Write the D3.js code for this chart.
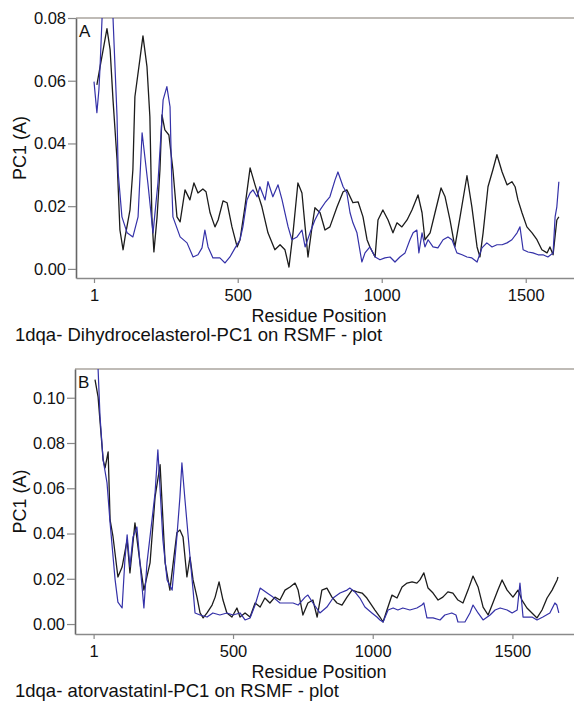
<!DOCTYPE html>
<html><head><meta charset="utf-8">
<script src="https://cdn.jsdelivr.net/npm/d3@7"></script>
<style>body{margin:0;background:#fff}svg{display:block}text{font-family:"Liberation Sans",Arial,sans-serif;fill:#111}</style>
</head><body>
<svg id="c" width="574" height="702"></svg>
<script>
// ---- Panel A data ----
const resA_black = [11,22,36,46,57,67,81,91,102,109,126,136,143,161,171,185,195,202,209,220,230,237,247,261,275,289,300,317,334,348,362,379,390,404,421,432,449,463,480,498,508,525,543,560,584,605,629,647,664,678,692,709,723,734,744,758,768,786,803,820,845,866,879,900,918,935,949,959,977,987,1004,1022,1039,1053,1070,1088,1105,1126,1140,1150,1168,1185,1206,1220,1237,1254,1272,1296,1313,1331,1341,1352,1369,1386,1400,1418,1435,1452,1463,1473,1487,1504,1522,1539,1556,1574,1584,1595,1608,1615];
const valA_black = [0.0587,0.0644,0.0715,0.0766,0.0699,0.0539,0.0348,0.0124,0.0061,0.0102,0.0188,0.0316,0.0549,0.0673,0.0743,0.0644,0.0485,0.0166,0.0054,0.0166,0.0316,0.0491,0.0443,0.0427,0.0316,0.0166,0.0150,0.0252,0.0220,0.0274,0.0242,0.0255,0.0246,0.0179,0.0134,0.0156,0.0217,0.0211,0.0134,0.0070,0.0093,0.0198,0.0322,0.0268,0.0198,0.0115,0.0061,0.0077,0.0061,0.0006,0.0115,0.0274,0.0242,0.0134,0.0038,0.0134,0.0195,0.0179,0.0124,0.0134,0.0198,0.0246,0.0252,0.0211,0.0214,0.0166,0.0093,0.0070,0.0038,0.0156,0.0188,0.0156,0.0115,0.0147,0.0134,0.0156,0.0188,0.0236,0.0179,0.0093,0.0115,0.0179,0.0258,0.0230,0.0156,0.0070,0.0166,0.0297,0.0198,0.0070,0.0038,0.0115,0.0262,0.0316,0.0364,0.0309,0.0268,0.0278,0.0262,0.0220,0.0179,0.0134,0.0115,0.0093,0.0061,0.0051,0.0070,0.0045,0.0156,0.0166];
const resA_blue = [1,11,18,22,29,39,57,67,81,85,98,116,136,154,168,188,206,223,241,254,265,272,275,300,324,345,362,376,386,397,414,438,456,473,491,508,518,532,543,553,567,577,595,605,622,640,654,664,675,688,706,723,734,751,768,786,803,820,838,848,866,879,890,900,914,931,942,959,977,994,1011,1029,1046,1063,1081,1098,1109,1122,1129,1140,1150,1161,1178,1195,1213,1230,1244,1261,1279,1296,1313,1331,1348,1365,1383,1400,1418,1435,1452,1470,1480,1491,1508,1525,1543,1560,1577,1595,1602,1608,1615];
const valA_blue = [0.0597,0.0498,0.0571,0.0644,0.0800,0.0880,0.0870,0.0800,0.0485,0.0306,0.0166,0.0115,0.0102,0.0166,0.0434,0.0274,0.0115,0.0274,0.0539,0.0581,0.0517,0.0242,0.0166,0.0102,0.0083,0.0038,0.0045,0.0067,0.0124,0.0070,0.0035,0.0035,0.0019,0.0038,0.0067,0.0093,0.0134,0.0220,0.0242,0.0252,0.0230,0.0262,0.0220,0.0278,0.0230,0.0268,0.0220,0.0179,0.0134,0.0093,0.0102,0.0124,0.0070,0.0115,0.0156,0.0188,0.0211,0.0230,0.0284,0.0309,0.0262,0.0242,0.0179,0.0147,0.0115,0.0022,0.0051,0.0070,0.0038,0.0029,0.0035,0.0038,0.0022,0.0038,0.0051,0.0093,0.0115,0.0124,0.0051,0.0115,0.0070,0.0093,0.0070,0.0067,0.0093,0.0102,0.0093,0.0051,0.0045,0.0038,0.0035,0.0022,0.0067,0.0083,0.0070,0.0077,0.0077,0.0083,0.0093,0.0115,0.0134,0.0061,0.0054,0.0051,0.0045,0.0045,0.0038,0.0051,0.0166,0.0198,0.0278];

// ---- Panel B data ----
const resB_black = [6,17,35,42,53,60,70,88,103,121,131,149,167,181,203,221,239,257,274,299,310,321,335,346,357,371,382,393,407,425,436,450,464,478,496,514,525,543,561,579,597,614,632,650,668,686,704,722,733,750,768,786,801,818,836,854,872,890,908,926,944,962,979,1008,1026,1037,1051,1069,1087,1105,1123,1141,1158,1169,1183,1198,1216,1234,1251,1269,1287,1305,1323,1341,1359,1377,1395,1413,1430,1448,1463,1481,1502,1520,1534,1552,1570,1588,1606,1624,1642,1660,1663];
const valB_black = [0.108,0.1004,0.0726,0.069,0.0761,0.046,0.039,0.0208,0.0252,0.0372,0.0226,0.0447,0.0270,0.0150,0.0270,0.0562,0.0704,0.0270,0.0150,0.0403,0.0416,0.0385,0.0208,0.0296,0.0195,0.0119,0.0049,0.0027,0.0049,0.0084,0.0119,0.0186,0.0106,0.0049,0.0031,0.0071,0.0031,0.0049,0.0031,0.0093,0.0075,0.0115,0.0093,0.0119,0.0106,0.0150,0.0164,0.0181,0.0150,0.0040,0.0093,0.0106,0.0031,0.0150,0.0159,0.0119,0.0093,0.0084,0.0119,0.0150,0.0142,0.0137,0.0115,0.0062,0.0031,0.0009,0.0062,0.0128,0.0115,0.0164,0.0181,0.0186,0.0181,0.0195,0.0226,0.0159,0.0137,0.0106,0.0119,0.0142,0.0137,0.0106,0.0093,0.0150,0.0212,0.0164,0.0075,0.0040,0.0093,0.0150,0.0195,0.0150,0.0119,0.0150,0.0106,0.0071,0.0049,0.0027,0.0062,0.0115,0.0150,0.0195,0.0208];
const resB_blue = [1,17,24,35,49,60,78,88,103,113,121,131,142,156,167,181,192,210,221,231,249,264,282,299,310,317,328,346,357,364,382,407,428,453,478,500,525,543,561,579,597,622,643,668,693,715,733,758,768,786,811,836,858,883,908,918,936,954,972,997,1015,1026,1037,1055,1073,1090,1108,1133,1158,1176,1183,1194,1216,1241,1258,1283,1298,1305,1330,1348,1359,1377,1395,1420,1438,1456,1481,1499,1517,1527,1538,1552,1570,1588,1609,1634,1652,1659,1666];
const valB_blue = [0.125,0.1128,0.0916,0.0726,0.0624,0.0447,0.0195,0.0097,0.0071,0.0283,0.0394,0.0252,0.0385,0.0429,0.0270,0.0071,0.0270,0.0460,0.0580,0.0770,0.0372,0.0195,0.0150,0.0385,0.0562,0.0712,0.0549,0.0296,0.0150,0.0049,0.0040,0.0031,0.0049,0.0040,0.0049,0.0040,0.0049,0.0018,0.0027,0.0084,0.0159,0.0137,0.0119,0.0093,0.0093,0.0093,0.0084,0.0119,0.0128,0.0093,0.0049,0.0075,0.0115,0.0137,0.0150,0.0159,0.0142,0.0115,0.0075,0.0049,0.0031,0.0018,0.0009,0.0062,0.0071,0.0062,0.0071,0.0062,0.0071,0.0084,0.0093,0.0027,0.0027,0.0018,0.0040,0.0049,0.0040,0.0009,0.0009,0.0049,0.0084,0.0049,0.0018,0.0040,0.0062,0.0071,0.0062,0.0049,0.0062,0.0181,0.0031,0.0031,0.0031,0.0018,0.0031,0.0049,0.0093,0.0084,0.0049];

const xTicks = [1, 500, 1000, 1500];
const yTicksA = [0, 0.02, 0.04, 0.06, 0.08];
const yTicksB = [0, 0.02, 0.04, 0.06, 0.08, 0.10];
const titleA = "1dqa- Dihydrocelasterol-PC1 on RSMF - plot";
const titleB = "1dqa- atorvastatinl-PC1 on RSMF - plot";

const svg = d3.select("#c");
const BLACK = "#1c1c1c", BLUE = "#3431a8";

function panel(cfg){
  const g = svg.append("g");
  const x = d3.scaleLinear().domain(cfg.xDom).range([cfg.left, 574]);
  const y = d3.scaleLinear().domain(cfg.yDom).range([cfg.bottom, cfg.top]);
  const id = "clip" + cfg.letter;
  svg.append("clipPath").attr("id", id).append("rect")
    .attr("x", cfg.left).attr("y", cfg.top).attr("width", 574 - cfg.left).attr("height", cfg.bottom - cfg.top);
  // top frame
  g.append("line").attr("x1", cfg.left).attr("x2", 574).attr("y1", cfg.top).attr("y2", cfg.top)
    .attr("stroke", "#aaa49e").attr("stroke-width", 1.6);
  const line = d3.line().x(d => x(d[0])).y(d => y(d[1]));
  const lg = g.append("g").attr("clip-path", `url(#${id})`);
  lg.append("path").datum(d3.zip(cfg.rb, cfg.vb)).attr("d", line)
    .attr("fill", "none").attr("stroke", BLACK).attr("stroke-width", 1.3).attr("stroke-linejoin", "round");
  lg.append("path").datum(d3.zip(cfg.ru, cfg.vu)).attr("d", line)
    .attr("fill", "none").attr("stroke", BLUE).attr("stroke-width", 1.2).attr("stroke-linejoin", "round");
  // axes
  const ya = g.append("g").attr("transform", `translate(${cfg.left},0)`)
    .call(d3.axisLeft(y).tickValues(cfg.yTicks).tickFormat(d3.format(".2f")).tickSize(8).tickPadding(2).tickSizeOuter(0));
  ya.select(".domain").attr("stroke", "#666").attr("stroke-width", 1.6);
  ya.selectAll(".tick line").attr("stroke", "#888").attr("stroke-width", 1.2);
  ya.selectAll(".tick text").attr("font-size", 16.5).attr("fill", "#111").attr("font-family", "Liberation Sans, Arial, sans-serif");
  const xa = g.append("g").attr("transform", `translate(0,${cfg.bottom})`)
    .call(d3.axisBottom(x).tickValues(xTicks).tickFormat(d3.format("d")).tickSize(5).tickPadding(6).tickSizeOuter(0));
  xa.select(".domain").attr("stroke", "#8a8a8a").attr("stroke-width", 1.6);
  xa.selectAll(".tick line").attr("stroke", "#888").attr("stroke-width", 1.2);
  xa.selectAll(".tick text").attr("font-size", 16.5).attr("fill", "#111").attr("font-family", "Liberation Sans, Arial, sans-serif");
  // labels
  g.append("text").attr("x", cfg.left + 3).attr("y", cfg.top + 19).attr("font-size", 17).text(cfg.letter);
  g.append("text").attr("x", 319).attr("y", cfg.bottom + 44).attr("text-anchor", "middle").attr("font-size", 18).text("Residue Position");
  g.append("text").attr("transform", `translate(26,${(cfg.top + cfg.bottom) / 2}) rotate(-90)`)
    .attr("text-anchor", "middle").attr("font-size", 18).text("PC1 (A)");
  g.append("text").attr("x", 15).attr("y", cfg.bottom + 63).attr("font-size", 18.5).text(cfg.title);
}

panel({letter: "A", left: 76, top: 18, bottom: 278, xDom: [-61.5, 1667.6], yDom: [-0.0029, 0.08],
  yTicks: yTicksA, rb: resA_black, vb: valA_black, ru: resA_blue, vu: valA_blue, title: titleA});
panel({letter: "B", left: 75, top: 369, bottom: 634, xDom: [-65.6, 1720.4], yDom: [-0.0044, 0.1127],
  yTicks: yTicksB, rb: resB_black, vb: valB_black, ru: resB_blue, vu: valB_blue, title: titleB});
</script>
</body></html>
